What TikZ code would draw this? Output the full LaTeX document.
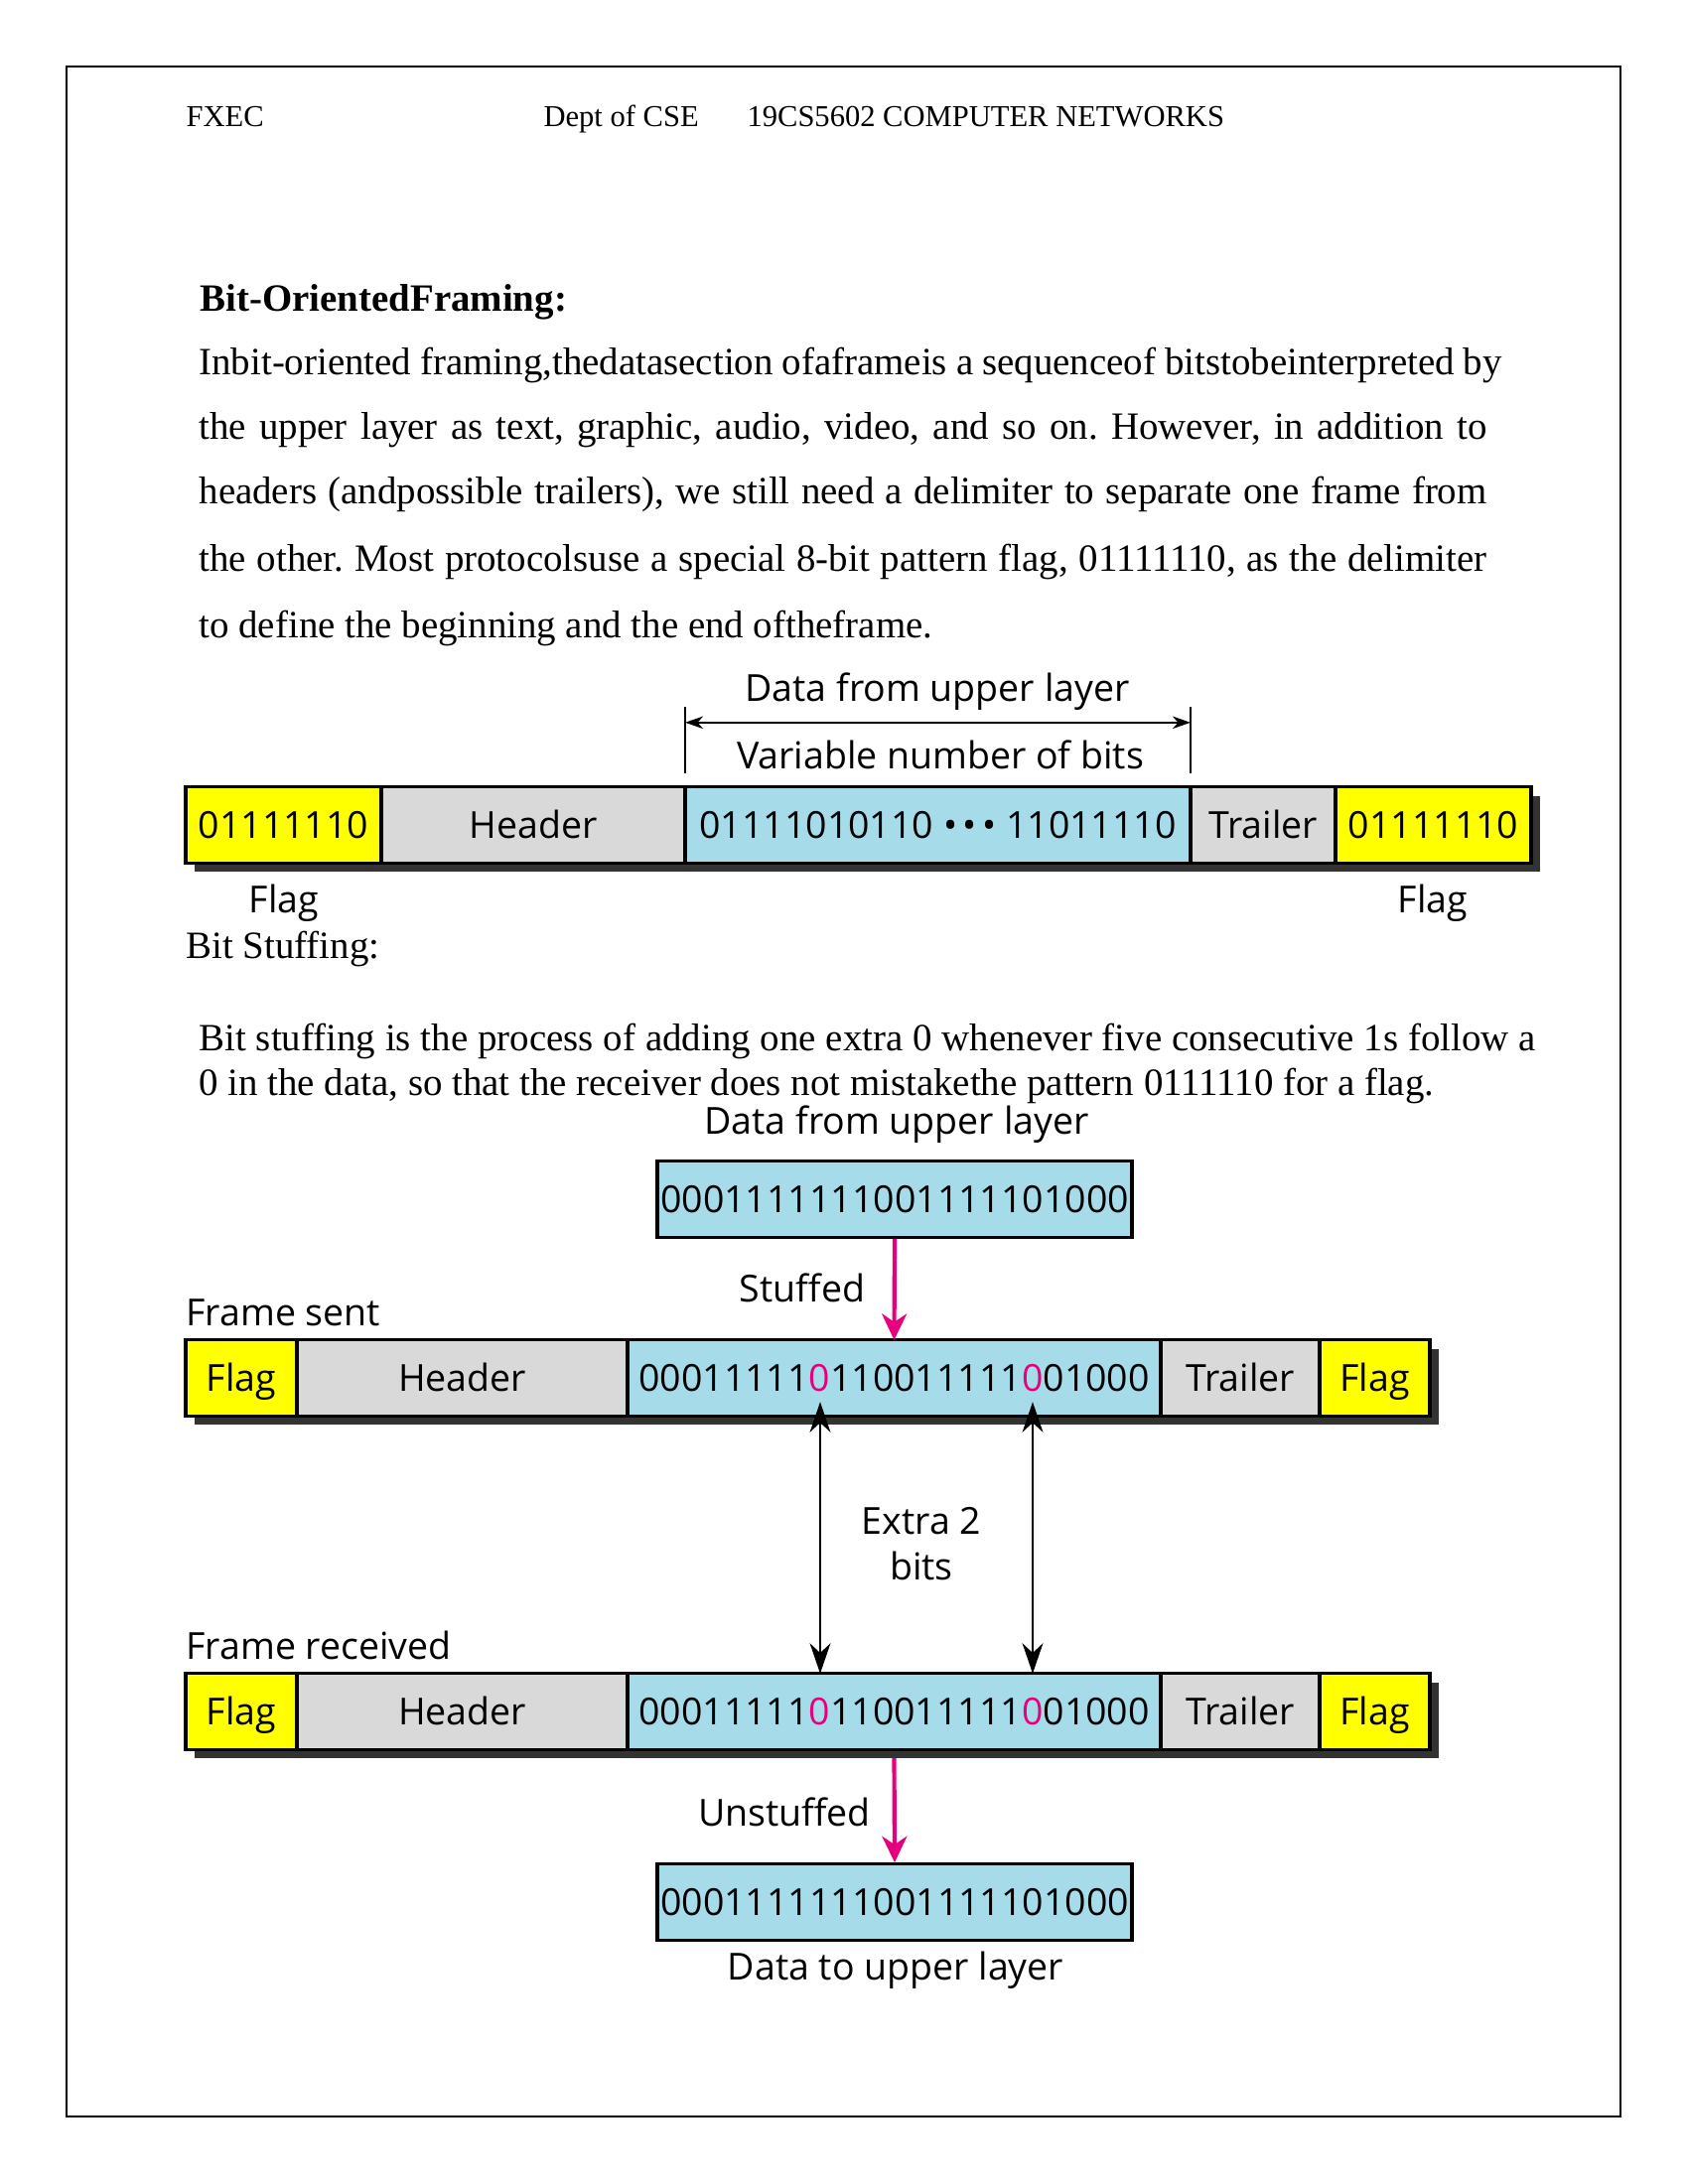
\documentclass[tikz,border=0pt]{standalone}
\usepackage{fontspec}
\setmainfont{Liberation Serif}
\newfontfamily\opensans{Open Sans}
\usepackage{tikz}
\usetikzlibrary{arrows.meta,calc,positioning,shadows}
\usepackage{xcolor}
\definecolor{flagyellow}{HTML}{FFFF00}
\definecolor{hdrgray}{HTML}{D9D9D9}
\definecolor{datablue}{HTML}{A6DCEA}
\definecolor{stuffpink}{HTML}{E6007E}
\definecolor{shade}{HTML}{333333}
\frenchspacing
\newcommand{\figfont}{\opensans\fontsize{13.5pt}{16.6pt}\selectfont}
\newcommand{\bodyfont}{\fontsize{14pt}{16pt}\selectfont}
\newcommand{\headfont}{\fontsize{11pt}{13pt}\selectfont}
\newcommand{\zero}{\textcolor{stuffpink}{0}}

\begin{document}
\begin{tikzpicture}[x=0.36pt, y=-0.36pt,
  body/.style={font=\bodyfont, inner sep=0pt, anchor=base west},
  lbl/.style={font=\figfont, inner sep=0pt},
  barshadow/.style={drop shadow={shadow xshift=3.2pt, shadow yshift=-3.2pt, opacity=1, fill=shade}},
  seg/.style={draw, line width=1.1pt, inner sep=0pt, outer sep=0pt, minimum width=#1*0.36pt,
    minimum height=27.5pt, text height=11.5pt, text depth=1.5pt, font=\figfont, barshadow},
  flagseg/.style={seg=#1, fill=flagyellow},
  hdrseg/.style={seg=#1, fill=hdrgray},
  dataseg/.style={seg=#1, fill=datablue},
  bitbox/.style={draw, line width=1.2pt, fill=datablue, inner sep=0pt, minimum width=478*0.36pt,
    minimum height=27.5pt, font=\figfont},
  pinkarrow/.style={draw=stuffpink, line width=1.5pt, -{Stealth[length=9.5pt, width=9pt, inset=3pt]}},
  bothway/.style={line width=0.9pt, {Stealth[length=11pt, width=7.5pt, inset=3.5pt]}-{Stealth[length=11pt, width=7.5pt, inset=3.5pt]}}]

\useasboundingbox (0,0) rectangle (1700,2200);
\draw[line width=0.6pt] (67,67) rectangle (1632,2132);

% page text
\node[body, font=\headfont] (fxec) at (187,128) {FXEC};
\node[body, font=\headfont] (dept) at (547,128) {Dept of CSE};
\node[body, font=\headfont] (course) at (752,128) {19CS5602 COMPUTER NETWORKS};
\node[body, font=\bodyfont\bfseries] (title) at (201,313) {Bit-OrientedFraming:};
\node[body] (par1) at (200,377) {\makebox[472.3pt][s]{Inbit-oriented framing,thedatasection ofaframeis a sequenceof bitstobeinterpreted by}};
\node[body] (par2) at (200,442) {\makebox[466.9pt][s]{the upper layer as text, graphic, audio, video, and so on. However, in addition to}};
\node[body] (par3) at (200,507) {\makebox[466.9pt][s]{headers (andpossible trailers), we still need a delimiter to separate one frame from}};
\node[body] (par4) at (200,575) {\makebox[466.9pt][s]{the other. Most protocolsuse a special 8-bit pattern flag, 01111110, as the delimiter}};
\node[body] (par5) at (200,642) {to define the beginning and the end oftheframe.};

% frame with flags
\node[flagseg=197, anchor=west] (flagA) at (187,831) {01111110};
\node[hdrseg=306, right=0pt of flagA] (hdrA) {Header};
\node[dataseg=509, right=0pt of hdrA] (dataA) {01111010110 \textbullet\kern2pt\textbullet\kern2pt\textbullet{} 11011110};
\node[hdrseg=146, right=0pt of dataA] (trlA) {Trailer};
\node[flagseg=197, right=0pt of trlA] (flagZ) {01111110};

\node[lbl] (dataup) at (944,697) {Data from upper layer};
\node[lbl] (varbits) at (947,760) {Variable number of bits};
\draw[line width=0.7pt] ($(dataA.north west)+(0,-14)$) -- ++(0,-67);
\draw[line width=0.7pt] ($(dataA.north east)+(0,-14)$) -- ++(0,-67);
\draw[line width=0.7pt, {Stealth[length=6.5pt, width=4.5pt, inset=2pt]}-{Stealth[length=6.5pt, width=4.5pt, inset=2pt]}]
  ($(dataA.north west)+(0,-65)$) -- ($(dataA.north east)+(0,-65)$);
\node[lbl] (flagtxtA) at (286,910) {Flag};
\node[lbl] (flagtxtZ) at (1443,910) {Flag};

\node[body] (stuffhd) at (187,965) {Bit Stuffing:};
\node[body] (stuff1) at (200,1058) {\makebox[484.6pt][s]{Bit stuffing is the process of adding one extra 0 whenever five consecutive 1s follow a}};
\node[body] (stuff2) at (200,1103) {0 in the data, so that the receiver does not mistakethe pattern 0111110 for a flag.};

% bit stuffing
\node[lbl] (dataup2) at (903,1133) {Data from upper layer};
\node[bitbox] (sendbits) at (901,1208) {0001111111001111101000};
\node[lbl] (stuffed) at (808,1297) {Stuffed};
\node[lbl, anchor=west] (sentlbl) at (187,1322) {Frame sent};

\node[flagseg=112, anchor=west] (flagB) at (187,1388) {Flag};
\node[hdrseg=333, right=0pt of flagB] (hdrB) {Header};
\node[dataseg=537, right=0pt of hdrB] (dataB) {00011111\zero110011111\zero01000};
\node[hdrseg=160, right=0pt of dataB] (trlB) {Trailer};
\node[flagseg=111, right=0pt of trlB] (flagY) {Flag};

\draw[pinkarrow] (sendbits.south) -- (dataB.north);

\node[lbl, anchor=west] (recvlbl) at (187,1657) {Frame received};
\node[flagseg=112, anchor=west] (flagR) at (187,1724) {Flag};
\node[hdrseg=333, right=0pt of flagR] (hdrR) {Header};
\node[dataseg=537, right=0pt of hdrR] (dataR) {00011111\zero110011111\zero01000};
\node[hdrseg=160, right=0pt of dataR] (trlR) {Trailer};
\node[flagseg=111, right=0pt of trlR] (flagX) {Flag};

\coordinate (zA) at (826,1550);
\coordinate (zB) at (1040,1550);
\draw[bothway] ($(dataB.south -| zA)+(0,-14)$) -- (dataR.north -| zA);
\draw[bothway] ($(dataB.south -| zB)+(0,-14)$) -- (dataR.north -| zB);
\node[lbl, align=center] (extra) at (928,1555) {Extra 2\\bits};

\node[bitbox] (recvbits) at (901,1916) {0001111111001111101000};
\draw[pinkarrow] ($(dataR.south)+(0,9)$) -- (recvbits.north);
\node[lbl] (unstuffed) at (790,1825) {Unstuffed};
\node[lbl] (datadown) at (902,1985) {Data to upper layer};

\end{tikzpicture}
\end{document}
